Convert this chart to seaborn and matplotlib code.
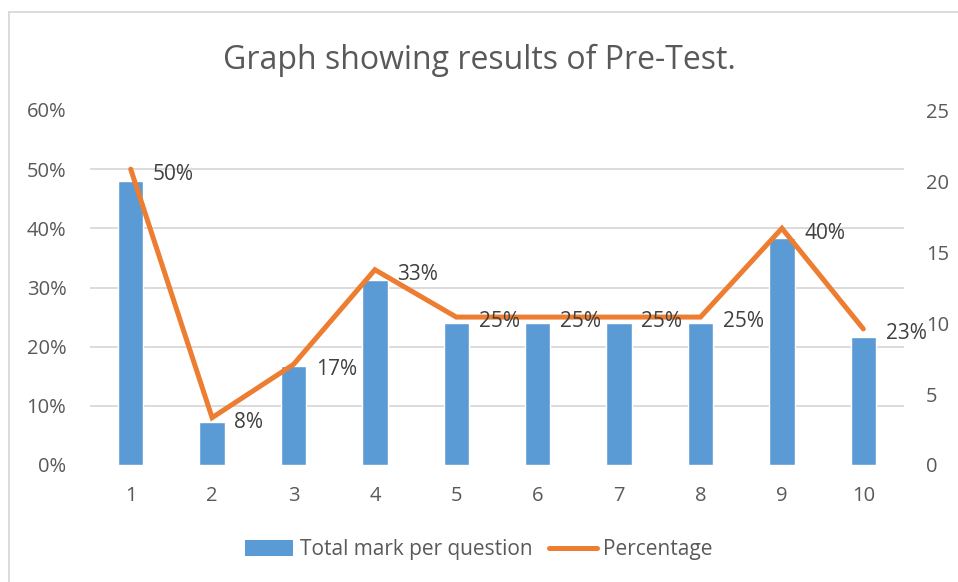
import numpy as np
import pandas as pd
import matplotlib
matplotlib.use("Agg")
import matplotlib.pyplot as plt
from matplotlib.lines import Line2D
from matplotlib.patches import Patch
import seaborn as sns

questions = ["1", "2", "3", "4", "5", "6", "7", "8", "9", "10"]
total_marks = [20, 3, 7, 13, 10, 10, 10, 10, 16, 9]
percentage = [0.50, 0.08, 0.17, 0.33, 0.25, 0.25, 0.25, 0.25, 0.40, 0.23]
pct_labels = ["50%", "8%", "17%", "33%", "25%", "25%", "25%", "25%", "40%", "23%"]

bar_col = "#5B9BD5"
line_col = "#ED7D31"
txt_col = "#595959"
grid_col = "#D9D9D9"

sns.set_theme(style="white")
plt.rcParams["font.family"] = ["Open Sans", "DejaVu Sans"]

df = pd.DataFrame({"q": questions, "marks": total_marks, "pct": percentage,
                   "pos": np.arange(len(questions))})

fig = plt.figure(figsize=(9.58, 5.82), dpi=100)
ax = fig.add_axes([90 / 958, 117 / 582, 814 / 958, 355 / 582])

# bars on the primary axis, ticks shown on the right
sns.barplot(data=df, x="q", y="marks", color=bar_col, width=0.31,
            saturation=1, ax=ax, zorder=2)
ax.set_ylim(0, 25)
ax.set_yticks([0, 5, 10, 15, 20, 25])
ax.set_xlim(-0.5, len(questions) - 0.5)
# gridlines at the left axis ticks
ax.set_yticks([v / 0.6 * 25 for v in np.arange(0, 0.61, 0.1)], minor=True)
ax.grid(which="minor", axis="y", color=grid_col, linewidth=1.3, zorder=0)
ax.tick_params(which="both", length=0, labelsize=14.5, colors=txt_col)
ax.tick_params(axis="y", pad=16)
ax.tick_params(axis="x", pad=15)
ax.set_xlabel("")
ax.set_ylabel("")

ax2 = ax.twinx()
ax2.yaxis.tick_left()
ax.yaxis.tick_right()
sns.lineplot(data=df, x="pos", y="pct", color=line_col, linewidth=3.6,
             ax=ax2, solid_capstyle="round", solid_joinstyle="miter")
ax2.set_ylim(0, 0.6)
ax2.set_yticks(np.arange(0, 0.61, 0.1))
ax2.set_yticklabels([f"{int(round(v * 100))}%" for v in np.arange(0, 0.61, 0.1)])
ax2.tick_params(length=0, labelsize=14.5, colors=txt_col, pad=17)
ax2.set_xlabel("")
ax2.set_ylabel("")
ax2.set_xlim(-0.5, len(questions) - 0.5)

for x, y, lab in zip(df["pos"], percentage, pct_labels):
    ax2.annotate(lab, (x, y), xytext=(16, -3.5), textcoords="offset points",
                 ha="left", va="center", fontsize=15, color="#404040")

for a in (ax, ax2):
    for s in a.spines.values():
        s.set_visible(False)

fig.text(0.5, 0.896, "Graph showing results of Pre-Test.", ha="center",
         va="center", fontsize=23, color=txt_col)

handles = [Patch(facecolor=bar_col, edgecolor="none"),
           Line2D([0], [0], color=line_col, linewidth=3.6, solid_capstyle="round")]
fig.legend(handles, ["Total mark per question", "Percentage"], loc="center",
           bbox_to_anchor=(0.5, 0.055), ncol=2, frameon=False, fontsize=15,
           labelcolor=txt_col, handlelength=2.3, handleheight=0.8,
           handletextpad=0.3, columnspacing=0.8)

# chart border
fig.add_artist(Line2D([8.5 / 958, 8.5 / 958], [0, 570 / 582], color=grid_col,
                      linewidth=1.3, transform=fig.transFigure))
fig.add_artist(Line2D([8.5 / 958, 1], [570 / 582, 570 / 582], color=grid_col,
                      linewidth=1.3, transform=fig.transFigure))

fig.savefig("out.png", dpi=100)
